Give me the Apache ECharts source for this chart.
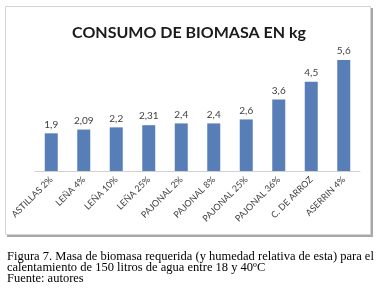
<!DOCTYPE html>
<html>
<head>
<meta charset="utf-8">
<script src="https://cdn.jsdelivr.net/npm/echarts@6/dist/echarts.min.js"></script>
<style>
  html, body { margin: 0; padding: 0; background: #fff; }
  #main { width: 378px; height: 297px; }
</style>
</head>
<body>
<div id="main"></div>
<script>
const categories = [
  "ASTILLAS 2%", "LEÑA 4%", "LEÑA 10%", "LEÑA 25%", "PAJONAL 2%",
  "PAJONAL 8%", "PAJONAL 25%", "PAJONAL 36%", "C. DE ARROZ", "ASERRIN 4%"
];
const consumoKg = [1.9, 2.09, 2.2, 2.31, 2.4, 2.4, 2.6, 3.6, 4.5, 5.6];

const chartTitle = "CONSUMO DE BIOMASA EN kg";
const captionLines = [
  "Figura 7. Masa de biomasa requerida (y humedad relativa de esta) para el",
  "calentamiento de 150 litros de agua entre 18 y 40ºC",
  "Fuente: autores"
];

const chart = echarts.init(document.getElementById('main'));

// frame around the chart (Excel style, darker shadow right/bottom)
const frame = [
  { type: 'rect', z: -2, shape: { x: 7, y: 8, width: 366, height: 229 }, style: { fill: '#a8a8a8' } },
  { type: 'rect', z: -1, shape: { x: 5.5, y: 6.5, width: 365, height: 228 }, style: { fill: '#fff', stroke: '#d4d4d4', lineWidth: 1 } }
];

const caption = captionLines.map((t, i) => ({
  type: 'text',
  left: 7,
  top: 250 + i * 11.3,
  style: {
    text: t,
    font: '12.5px "Liberation Serif", "Times New Roman", serif',
    fill: '#000'
  }
}));

const option = {
  animation: false,
  title: {
    text: chartTitle,
    left: 'center',
    top: 20,
    textStyle: { fontFamily: 'Lato, sans-serif', fontWeight: 'bold', fontSize: 16, color: '#1a1a1a' }
  },
  grid: { left: 35, right: 18, top: 52, bottom: 126 },
  xAxis: {
    type: 'category',
    data: categories,
    axisLine: { lineStyle: { color: '#d0d0d0', width: 1 } },
    axisTick: { show: false },
    axisLabel: {
      rotate: 45,
      interval: 0,
      margin: 7,
      fontFamily: 'Lato, sans-serif',
      fontSize: 9,
      color: '#404040'
    }
  },
  yAxis: {
    type: 'value',
    min: 0,
    max: 6,
    show: false
  },
  series: [{
    type: 'bar',
    data: consumoKg,
    barWidth: '40%',
    itemStyle: { color: '#587EB8' },
    label: {
      show: true,
      position: 'top',
      distance: 4,
      fontFamily: 'Lato, sans-serif',
      fontSize: 10,
      color: '#404040',
      formatter: p => String(p.value).replace('.', ',')
    }
  }],
  graphic: frame.concat(caption)
};

chart.setOption(option);
</script>
</body>
</html>
